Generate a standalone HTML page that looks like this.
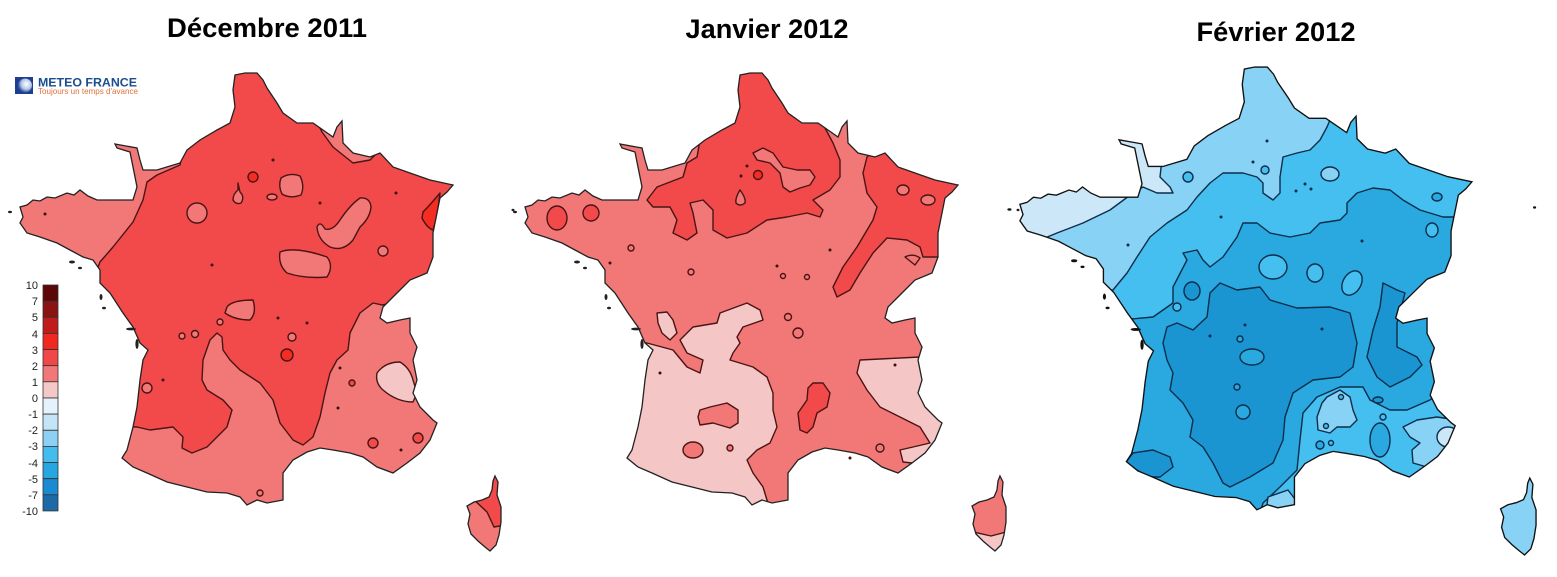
<!DOCTYPE html>
<html><head><meta charset="utf-8">
<style>
html,body{margin:0;padding:0;background:#fff;}
svg{display:block;}
</style></head>
<body>
<svg width="1557" height="577" viewBox="0 0 1557 577" xmlns="http://www.w3.org/2000/svg">
<defs>
<path id="frm" d="M235,75 L245,73 L257,73 L263,80 L267,88 L277,103 L283,113 L297,123 L313,123 L323,130 L333,137 L337,127 L342,121 L343,143 L353,153 L370,157 L380,153 L393,167 L410,173 L430,180 L453,185 L447,192 L440,198 L437,213 L433,233 L433,257 L427,273 L410,280 L400,290 L390,300 L383,307 L380,318 L387,323 L400,320 L410,318 L410,333 L417,347 L413,360 L417,380 L413,393 L420,407 L433,420 L437,423 L430,440 L420,453 L407,463 L393,473 L377,467 L363,457 L350,453 L333,450 L320,448 L307,452 L293,460 L283,473 L283,500 L267,503 L257,500 L247,505 L240,497 L227,493 L207,492 L187,487 L167,482 L147,473 L133,467 L122,458 L127,450 L133,427 L137,407 L140,380 L143,360 L148,350 L140,343 L133,327 L123,313 L110,293 L100,283 L100,270 L93,260 L83,257 L70,250 L57,243 L40,237 L27,233 L20,223 L23,217 L20,207 L27,205 L33,200 L40,201 L47,197 L55,198 L67,193 L74,195 L80,190 L88,196 L97,200 L110,200 L123,200 L133,200 L137,187 L133,167 L130,152 L117,148 L115,144 L137,148 L140,160 L143,170 L157,170 L180,163 L187,150 L200,140 L217,130 L230,123 L235,107 L233,90 Z"/>
<path id="co" d="M495,476 L498,482 L497,495 L501,507 L501,522 L499,535 L496,545 L490,551 L485,547 L478,541 L471,534 L468,524 L470,514 L467,506 L474,502 L482,500 L489,497 L492,490 L493,481 Z"/>
<g id="isl">
<ellipse cx="10" cy="212" rx="2" ry="1.2"/>
<ellipse cx="72" cy="262" rx="3" ry="1.5"/>
<ellipse cx="80" cy="268" rx="2" ry="1.2"/>
<ellipse cx="101" cy="297" rx="1.5" ry="3"/>
<ellipse cx="104" cy="308" rx="2" ry="1.3"/>
<ellipse cx="131" cy="329" rx="5" ry="1.4"/>
<ellipse cx="137" cy="344" rx="1.6" ry="5"/>
<ellipse cx="513" cy="210" rx="1.5" ry="1.2"/>
</g>
<clipPath id="c1"><use href="#frm"/><use href="#co"/></clipPath>
<clipPath id="c3"><use href="#frm" transform="matrix(1.044,0,0,1.025,999,-7.8)"/><use href="#co" transform="matrix(1.044,0,0,1.025,1013,-9.8)"/></clipPath>
<radialGradient id="lg" cx="0.6" cy="0.4" r="0.6">
<stop offset="0" stop-color="#ffffff"/><stop offset="0.6" stop-color="#b8c8e8"/><stop offset="1" stop-color="#3050a0"/>
</radialGradient>
</defs>

<!-- Titles -->
<g font-family="'Liberation Sans', Arial, sans-serif" font-weight="bold" font-size="27" fill="#000" text-anchor="middle">
<text x="267" y="37" textLength="200" lengthAdjust="spacingAndGlyphs">Décembre 2011</text>
<text x="767" y="38" textLength="163" lengthAdjust="spacingAndGlyphs">Janvier 2012</text>
<text x="1276" y="41" textLength="159" lengthAdjust="spacingAndGlyphs">Février 2012</text>
</g>

<!-- Logo -->
<rect x="15" y="77" width="18" height="17" fill="#1e3f8f"/>
<circle cx="25" cy="85.5" r="7" fill="url(#lg)"/>
<text x="38" y="86.5" font-family="'Liberation Sans', Arial, sans-serif" font-weight="bold" font-size="12.3" fill="#1b4e8f" textLength="99" lengthAdjust="spacingAndGlyphs">METEO FRANCE</text>
<text x="38" y="94" font-family="'Liberation Sans', Arial, sans-serif" font-size="8.5" fill="#e0703a" textLength="100" lengthAdjust="spacingAndGlyphs">Toujours un temps d'avance</text>

<!-- Legend -->
<g stroke="#333" stroke-width="0.8">
<rect x="43" y="285.0" width="15" height="16.14" fill="#5c0808"/>
<rect x="43" y="301.1" width="15" height="16.14" fill="#8a1414"/>
<rect x="43" y="317.3" width="15" height="16.14" fill="#c01c1c"/>
<rect x="43" y="333.4" width="15" height="16.14" fill="#f02820"/>
<rect x="43" y="349.6" width="15" height="16.14" fill="#f04848"/>
<rect x="43" y="365.7" width="15" height="16.14" fill="#f07878"/>
<rect x="43" y="381.8" width="15" height="16.14" fill="#f5c8c8"/>
<rect x="43" y="398.0" width="15" height="16.14" fill="#e6f2fb"/>
<rect x="43" y="414.1" width="15" height="16.14" fill="#c6e4f7"/>
<rect x="43" y="430.3" width="15" height="16.14" fill="#8ed0f3"/>
<rect x="43" y="446.4" width="15" height="16.14" fill="#44bdee"/>
<rect x="43" y="462.5" width="15" height="16.14" fill="#28a6e0"/>
<rect x="43" y="478.7" width="15" height="16.14" fill="#1b8ad0"/>
<rect x="43" y="494.8" width="15" height="16.14" fill="#1e6aa8"/>
</g>
<g font-family="'Liberation Sans', Arial, sans-serif" font-size="11" fill="#222" text-anchor="end">
<text x="38" y="289">10</text>
<text x="38" y="305">7</text>
<text x="38" y="321">5</text>
<text x="38" y="338">4</text>
<text x="38" y="354">3</text>
<text x="38" y="370">2</text>
<text x="38" y="386">1</text>
<text x="38" y="402">0</text>
<text x="38" y="418">-1</text>
<text x="38" y="434">-2</text>
<text x="38" y="450">-3</text>
<text x="38" y="467">-4</text>
<text x="38" y="483">-5</text>
<text x="38" y="499">-7</text>
<text x="38" y="515">-10</text>
</g>

<!-- ============ MAP 1 : Décembre ============ -->
<g clip-path="url(#c1)" stroke="#4a1414" stroke-width="1.4" stroke-linejoin="round">
<rect x="0" y="60" width="520" height="510" fill="#f24a4a" stroke="none"/>
<path fill="#f27878" d="M182,155 L180,165 L157,175 L147,182 L143,200 L133,222 L113,247 L100,262 L95,275 L0,300 L0,60 L182,60 Z"/>
<path fill="#f27878" d="M315,118 L322,132 L333,147 L353,163 L370,160 L380,150 L385,120 Z"/>
<path fill="#f27878" d="M100,425 L137,427 L150,430 L173,427 L183,437 L182,448 L192,453 L207,447 L227,427 L232,410 L223,400 L207,390 L202,380 L203,360 L210,340 L217,333 L222,337 L223,350 L230,360 L240,370 L260,383 L273,400 L280,423 L293,440 L303,445 L313,437 L320,417 L325,393 L330,373 L337,360 L348,350 L350,333 L360,313 L373,303 L382,305 L470,290 L470,570 L100,570 Z"/>
<circle cx="197" cy="213" r="10" fill="#f27878"/>
<path fill="#f27878" d="M281,178 Q290,172 300,176 Q305,186 301,195 Q290,199 282,194 Q278,186 281,178Z"/>
<path fill="#f27878" d="M238,183 L240,192 Q245,197 241,203 Q236,205 233,200 Q233,194 238,190Z"/>
<ellipse cx="272" cy="197" rx="5" ry="3" fill="#f27878"/>
<path fill="#f27878" d="M317,227 Q318,240 330,247 Q343,252 353,240 L360,227 Q370,218 371,207 Q370,197 360,198 Q350,205 340,220 Q333,231 325,229 Q320,220 317,227Z"/>
<path fill="#f27878" d="M280,252 Q295,246 327,257 Q334,266 327,277 Q305,279 287,273 Q278,265 280,252Z"/>
<path fill="#f27878" d="M227,307 Q232,300 253,300 Q257,313 250,320 Q235,320 225,313 Z"/>
<circle cx="383" cy="251" r="5" fill="#f27878"/>
<circle cx="292" cy="337" r="4" fill="#f27878"/>
<circle cx="195" cy="334" r="3.5" fill="#f27878"/>
<circle cx="182" cy="336" r="3" fill="#f27878"/>
<circle cx="147" cy="388" r="5" fill="#f27878"/>
<circle cx="220" cy="322" r="3" fill="#f27878"/>
<circle cx="373" cy="443" r="5" fill="#f24a4a"/>
<circle cx="352" cy="383" r="3" fill="#f24a4a"/>
<circle cx="260" cy="493" r="3" fill="#f27878"/>
<circle cx="418" cy="438" r="5" fill="#f24a4a"/>
<path fill="#f42c22" d="M423,212 Q430,205 440,193 L437,217 L433,230 Q427,228 422,218 Z"/>
<circle cx="287" cy="355" r="6" fill="#f42c22"/>
<circle cx="253" cy="177" r="5" fill="#f42c22"/>
<path fill="#f5c6c6" d="M377,373 Q385,362 400,362 Q410,368 413,380 L417,393 L413,402 Q397,402 383,390 Q375,383 377,373 Z"/>
<path fill="#f27878" d="M460,470 L510,470 L510,560 L460,560 Z" stroke="none"/>
<path fill="#f24a4a" d="M472,498 L487,512 L494,527 L505,525 L505,470 L485,470 Z"/>
</g>
<g fill="#3a1010">
<circle cx="273" cy="160" r="1.5"/><circle cx="320" cy="203" r="1.5"/><circle cx="396" cy="193" r="1.5"/><circle cx="212" cy="265" r="1.5"/><circle cx="307" cy="323" r="1.5"/><circle cx="163" cy="380" r="1.5"/><circle cx="340" cy="368" r="1.5"/><circle cx="338" cy="408" r="1.5"/><circle cx="401" cy="450" r="1.5"/><circle cx="45" cy="214" r="1.5"/><circle cx="278" cy="318" r="1.5"/>
</g>
<use href="#isl" fill="#222"/>
<use href="#frm" fill="none" stroke="#222" stroke-width="1.3"/>
<use href="#co" fill="none" stroke="#222" stroke-width="1.3"/>

<!-- ============ MAP 2 : Janvier ============ -->
<g transform="translate(505,0)">
<g clip-path="url(#c1)" stroke="#4a1414" stroke-width="1.4" stroke-linejoin="round">
<rect x="0" y="60" width="520" height="510" fill="#f27878" stroke="none"/>
<path fill="#f24a4a" d="M195,140 L192,157 L182,163 L178,177 L152,187 L142,200 L148,207 L165,207 L172,220 L168,233 L182,240 L192,233 L188,213 L185,203 L198,200 L208,210 L208,230 L222,238 L242,233 L262,220 L282,217 L302,213 L315,217 L318,210 L308,200 L325,190 L335,177 L335,160 L328,143 L320,128 L320,60 L190,60 Z"/>
<path fill="#f27878" d="M248,153 L258,148 L268,153 L278,167 L292,170 L305,170 L310,177 L305,185 L295,188 L285,192 L278,187 L275,173 L265,163 L252,160 Z"/>
<circle cx="297" cy="110" r="6" fill="#f27878"/>
<path fill="#f27878" d="M235,190 Q241,198 240,203 Q235,207 231,203 Q230,198 235,190Z"/>
<circle cx="253" cy="175" r="4.5" fill="#f42c22"/>
<path fill="#f24a4a" d="M362,157 L358,173 L362,193 L372,207 L368,220 L352,247 L338,267 L328,287 L332,297 L345,290 L355,273 L368,253 L382,238 L402,240 L415,247 L418,257 L480,257 L480,150 L370,150 Z"/>
<ellipse cx="398" cy="190" rx="6" ry="5" fill="#f27878"/>
<ellipse cx="423" cy="200" rx="7" ry="5" fill="#f27878"/>
<path fill="#f27878" d="M400,257 Q408,253 415,258 L410,265 Z"/>
<ellipse cx="52" cy="218" rx="10" ry="12" fill="#f24a4a"/>
<ellipse cx="86" cy="213" rx="8" ry="8" fill="#f24a4a"/>
<path fill="#f5c6c6" d="M142,343 L168,350 L182,367 L195,373 L198,360 L182,353 L175,340 L188,327 L212,323 L215,313 L242,303 L255,310 L258,320 L238,327 L232,337 L235,343 L228,353 L225,360 L248,367 L262,377 L268,393 L268,410 L272,427 L265,443 L252,450 L242,460 L248,473 L258,487 L265,510 L100,520 L100,343 Z"/>
<path fill="#f5c6c6" d="M152,313 L162,312 L168,320 L172,333 L165,340 L157,333 L153,323 Z"/>
<path fill="#f27878" d="M193,417 L195,410 L205,407 L222,403 L233,410 L233,423 L225,428 L208,423 L195,425 Z"/>
<ellipse cx="188" cy="450" rx="10" ry="8" fill="#f27878"/>
<circle cx="225" cy="448" r="3" fill="#f27878"/>
<path fill="#f24a4a" d="M308,383 L318,383 L325,393 L322,407 L312,413 L308,427 L302,433 L295,430 L293,413 L302,400 L303,388 Z"/>
<path fill="#f5c6c6" d="M415,357 L355,360 L352,373 L362,390 L375,407 L395,417 L415,427 L425,443 L408,447 L395,450 L398,462 L470,470 L470,350 Z"/>
<circle cx="126" cy="248" r="3" fill="#f27878"/>
<circle cx="186" cy="272" r="3" fill="#f27878"/>
<circle cx="283" cy="317" r="3.5" fill="#f27878"/>
<circle cx="293" cy="333" r="5" fill="#f27878"/>
<circle cx="278" cy="276" r="2.5" fill="#f27878"/>
<circle cx="302" cy="277" r="2.5" fill="#f27878"/>
<circle cx="375" cy="448" r="4" fill="#f27878"/>
<path fill="#f5c6c6" d="M460,530 L486,536 L505,531 L505,560 L460,560 Z"/>
</g>
<g fill="#3a1010">
<circle cx="236" cy="176" r="1.5"/><circle cx="242" cy="166" r="1.5"/><circle cx="325" cy="250" r="1.5"/><circle cx="272" cy="266" r="1.5"/><circle cx="155" cy="373" r="1.5"/><circle cx="390" cy="365" r="1.5"/><circle cx="345" cy="458" r="1.5"/><circle cx="105" cy="263" r="1.5"/>
</g>
<use href="#isl" fill="#222"/>
<use href="#frm" fill="none" stroke="#222" stroke-width="1.3"/>
<use href="#co" fill="none" stroke="#222" stroke-width="1.3"/>
</g>

<!-- ============ MAP 3 : Février ============ -->
<g clip-path="url(#c3)" stroke="#0d2d4a" stroke-width="1.4" stroke-linejoin="round">
<rect x="1000" y="50" width="557" height="527" fill="#45bff0" stroke="none"/>
<path fill="#88d2f5" d="M1113,290 L1127,273 L1137,257 L1150,237 L1167,223 L1187,210 L1197,197 L1210,183 L1223,173 L1243,173 L1257,177 L1263,183 L1263,193 L1273,200 L1280,193 L1280,177 L1283,157 L1297,153 L1310,150 L1320,140 L1327,127 L1333,113 L1335,90 L1335,40 L1000,40 L1000,300 Z"/>
<path fill="#cbe7f8" d="M1165,120 L1163,150 L1160,177 L1170,187 L1173,193 L1157,193 L1143,187 L1133,193 L1110,210 L1083,223 L1057,233 L1040,240 L1000,240 L1000,120 Z"/>
<circle cx="1188" cy="177" r="5" fill="#45bff0"/>
<circle cx="1265" cy="170" r="4" fill="#45bff0"/>
<ellipse cx="1330" cy="174" rx="9" ry="7" fill="#88d2f5"/>
<path fill="#2aa8e0" d="M1100,322 L1153,317 L1173,303 L1173,287 L1187,260 L1183,253 L1197,250 L1203,260 L1210,267 L1223,257 L1237,237 L1243,223 L1257,223 L1270,233 L1290,237 L1310,233 L1320,223 L1340,220 L1347,213 L1347,203 L1357,193 L1373,188 L1390,190 L1403,200 L1420,210 L1443,217 L1500,217 L1500,390 L1443,390 L1430,400 L1407,410 L1390,410 L1370,400 L1363,387 L1340,387 L1317,397 L1303,413 L1300,440 L1297,470 L1280,487 L1263,503 L1255,530 L1100,530 Z"/>
<ellipse cx="1273" cy="267" rx="14" ry="12" fill="#45bff0"/>
<ellipse cx="1315" cy="273" rx="8" ry="9" fill="#45bff0"/>
<ellipse cx="1352" cy="283" rx="9" ry="13" transform="rotate(30 1352 283)" fill="#45bff0"/>
<ellipse cx="1432" cy="230" rx="6" ry="7" fill="#45bff0"/>
<ellipse cx="1437" cy="197" rx="5" ry="4" fill="#2aa8e0"/>
<circle cx="1177" cy="307" r="4" fill="#45bff0"/>
<path fill="#1b95d2" d="M1177,323 L1193,330 L1207,317 L1210,293 L1220,283 L1237,290 L1260,287 L1270,300 L1297,308 L1330,307 L1350,313 L1357,343 L1353,367 L1340,377 L1313,380 L1293,393 L1285,417 L1283,440 L1273,463 L1250,477 L1230,487 L1223,483 L1213,463 L1203,447 L1190,437 L1193,420 L1183,403 L1170,390 L1173,373 L1167,360 L1163,343 L1167,327 Z"/>
<ellipse cx="1192" cy="291" rx="8" ry="9" fill="#1b95d2"/>
<path fill="#1b95d2" d="M1133,453 L1153,450 L1170,457 L1173,467 L1160,477 L1147,477 L1137,470 L1120,470 Z"/>
<path fill="#1b95d2" d="M1383,283 L1397,290 L1405,293 L1397,323 L1397,347 L1417,357 L1422,365 L1410,377 L1390,387 L1377,377 L1367,357 L1373,330 L1380,307 Z"/>
<ellipse cx="1252" cy="357" rx="12" ry="8" fill="#2aa8e0"/>
<circle cx="1243" cy="412" r="7" fill="#2aa8e0"/>
<circle cx="1240" cy="339" r="3" fill="#2aa8e0"/>
<circle cx="1237" cy="387" r="3" fill="#2aa8e0"/>
<ellipse cx="1378" cy="400" rx="5" ry="3" fill="#1b95d2"/>
<circle cx="1383" cy="417" r="3" fill="#45bff0"/>
<ellipse cx="1380" cy="440" rx="10" ry="17" fill="#2aa8e0"/>
<path fill="#88d2f5" d="M1327,397 L1340,390 L1350,397 L1353,410 L1357,420 L1350,427 L1337,427 L1330,433 L1318,430 L1317,417 L1322,403 Z"/>
<circle cx="1341" cy="397" r="2.5" fill="#45bff0"/>
<circle cx="1326" cy="426" r="2.5" fill="#45bff0"/>
<path fill="#88d2f5" d="M1403,427 L1417,420 L1437,417 L1457,420 L1480,423 L1480,470 L1443,463 L1427,467 L1413,463 L1412,450 L1420,443 L1410,437 Z"/>
<ellipse cx="1448" cy="437" rx="11" ry="10" fill="#cbe7f8"/>
<circle cx="1320" cy="445" r="4" fill="#2aa8e0"/>
<circle cx="1331" cy="443" r="2.5" fill="#45bff0"/>
<path fill="#88d2f5" d="M1268,497 L1288,490 L1298,503 L1298,520 L1265,520 Z"/>
<rect x="1478" y="465" width="70" height="100" fill="#88d2f5" stroke="none"/>
</g>
<g fill="#0d2d4a">
<circle cx="1267" cy="141" r="1.5"/><circle cx="1253" cy="162" r="1.5"/><circle cx="1305" cy="184" r="1.5"/><circle cx="1311" cy="189" r="1.5"/><circle cx="1296" cy="191" r="1.5"/><circle cx="1221" cy="217" r="1.5"/><circle cx="1128" cy="245" r="1.5"/><circle cx="1362" cy="241" r="1.5"/><circle cx="1245" cy="325" r="1.5"/><circle cx="1210" cy="336" r="1.5"/><circle cx="1322" cy="329" r="1.5"/>
</g>
<g transform="matrix(1.044,0,0,1.025,999,-7.8)">
<use href="#isl" fill="#111"/>
<use href="#frm" fill="none" stroke="#111" stroke-width="1.3"/>
</g>
<use href="#co" transform="matrix(1.044,0,0,1.025,1013,-9.8)" fill="none" stroke="#111" stroke-width="1.3"/>
</svg>
</body></html>
